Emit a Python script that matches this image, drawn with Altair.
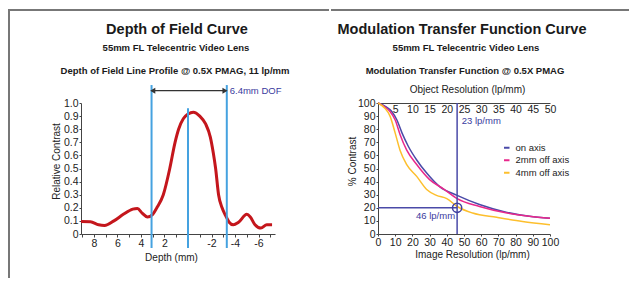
import altair as alt
import pandas as pd

# ---------------- data: depth of field line profile ----------------
dof_depth = [9.1, 8.3, 7.6, 7.1, 6.3, 5.5, 4.7, 4.3, 3.9, 3.45, 3.0, 2.65, 2.1, 1.55, 1.1,
             0.8, 0.4, 0.0, -0.45, -1.0, -1.5, -1.9, -2.15, -2.35, -2.6, -2.9, -3.2,
             -3.5, -3.85, -4.3, -5.0, -5.3, -5.7, -6.2, -6.7, -7.15]
dof_contrast = [0.095, 0.093, 0.07, 0.065, 0.1, 0.15, 0.19, 0.195, 0.16, 0.13, 0.15, 0.2, 0.3, 0.5, 0.7,
                0.8, 0.88, 0.915, 0.93, 0.9, 0.84, 0.74, 0.62, 0.5, 0.3, 0.2, 0.14,
                0.09, 0.07, 0.09, 0.15, 0.13, 0.07, 0.045, 0.07, 0.07]
dof_marker_x = [3.1, 0.0, -3.3]
dof_marker_top = [1.137, 0.96, 1.137]
dof_marker_bottom = [-0.107, -0.107, -0.107]
dof_arrow = [3.0, -3.15]
dof_arrow_y = 1.094
dof_label = "6.4mm DOF"

# ---------------- data: MTF curves ----------------
mtf_series = ["on axis", "2mm off axis", "4mm off axis"]
mtf_colors = ["#4a4aa8", "#e8288c", "#fdbf2d"]
on_axis_x = [0, 4, 8, 11, 14, 17.6, 22.5, 28.3, 36, 46, 59, 75, 88, 100]
on_axis_y = [100, 97.7, 93.5, 87, 77, 67, 56.5, 46.5, 36, 29.5, 22.5, 16.5, 13.5, 12]
off2_x = [0, 4, 7, 10, 12.8, 16.7, 22.5, 30, 38, 46, 59, 75, 88, 100]
off2_y = [100, 97, 93.5, 87, 76, 64, 53, 41.5, 34.5, 27, 21, 16, 13.5, 12]
off4_x = [0, 4, 7, 10, 12.8, 16.7, 22.5, 28.3, 34, 40, 46, 55, 69, 84, 100]
off4_y = [100, 96, 90, 77, 64, 53, 44, 34, 29.5, 27, 21, 16, 12.7, 9.5, 7]
mtf_cut_x = 46
mtf_cut_y = 20
mtf_labels = ["23 lp/mm", "46 lp/mm"]

FONT = "Liberation Sans"
AX = "#444444"
BLUE_TXT = "#3a3a9e"

# ================= left chart =================
dof_df = pd.DataFrame({"depth": dof_depth, "contrast": dof_contrast})
xs = alt.Scale(domain=[9.1, -7.4], nice=False, zero=False)
ys = alt.Scale(domain=[0, 1], nice=False, zero=False)

x_axis_l = alt.Axis(values=list(range(-7, 10)),
                    labelExpr="(datum.value % 2 == 0 && datum.value != 0) ? '' + datum.value : ''",
                    title="Depth (mm)", titleX=90, titleY=18, titleBaseline="top",
                    tickSize=3, labelPadding=1, labelFontSize=10.5,
                    grid=False, labelOverlap=False)
y_axis_l = alt.Axis(values=[i / 10 for i in range(11)],
                    labelExpr="datum.value == 0 ? '0' : format(datum.value, '.1f')",
                    title="Relative Contrast", titleX=-25, titleY=58, titleBaseline="middle",
                    tickSize=2, labelPadding=1, labelFontSize=10.5,
                    grid=False, labelOverlap=False)

XL = dict(scale=xs, axis=x_axis_l)
YL = dict(scale=ys, axis=y_axis_l)

curve = alt.Chart(dof_df).mark_line(color="#c4161c", strokeWidth=3, interpolate="monotone").encode(
    x=alt.X("depth:Q", **XL),
    y=alt.Y("contrast:Q", **YL),
)

mk_df = pd.DataFrame({"depth": dof_marker_x, "contrast": dof_marker_top, "bot": dof_marker_bottom})
markers = alt.Chart(mk_df).mark_rule(color="#45a2e0", strokeWidth=2).encode(
    x=alt.X("depth:Q", **XL),
    y=alt.Y("contrast:Q", **YL),
    y2="bot:Q",
)

arr_df = pd.DataFrame({"depth": [dof_arrow[0]], "x2": [dof_arrow[1]], "contrast": [dof_arrow_y]})
arrow_line = alt.Chart(arr_df).mark_rule(color="#333333", strokeWidth=1.3).encode(
    x=alt.X("depth:Q", **XL), x2="x2:Q", y=alt.Y("contrast:Q", **YL))
head_df = pd.DataFrame({"depth": dof_arrow, "contrast": [dof_arrow_y] * 2,
                        "shape": ["triangle-left", "triangle-right"]})
arrow_heads = alt.Chart(head_df).mark_point(filled=True, color="#333333", size=35, opacity=1).encode(
    x=alt.X("depth:Q", **XL), y=alt.Y("contrast:Q", **YL),
    shape=alt.Shape("shape:N", scale=None))
dof_txt = alt.Chart(pd.DataFrame({"depth": [-3.55], "contrast": [dof_arrow_y], "t": [dof_label]})).mark_text(
    align="left", baseline="middle", font=FONT, fontSize=9.5, color=BLUE_TXT).encode(
    x=alt.X("depth:Q", **XL), y=alt.Y("contrast:Q", **YL), text="t")

one = pd.DataFrame({"a": [0]})
frame_l = alt.Chart(one).mark_rule(color="#777777", strokeWidth=2).encode(
    x=alt.value(-72), y=alt.value(-94), y2=alt.value(175))
frame_t1 = alt.Chart(one).mark_rule(color="#777777", strokeWidth=2).encode(
    x=alt.value(-72), x2=alt.value(248), y=alt.value(-93))

def title_layer(text, x, y, size, bold):
    return alt.Chart(pd.DataFrame({"t": [text]})).mark_text(
        font=FONT, fontSize=size, fontWeight="bold" if bold else "normal",
        align="center", baseline="middle", color="#1a1a1a").encode(
        x=alt.value(x), y=alt.value(y), text="t")

left = alt.layer(
    curve, markers, arrow_line, arrow_heads, dof_txt,
    frame_l, frame_t1,
    title_layer("Depth of Field Curve", 96, -73, 14.5, True),
    title_layer("55mm FL Telecentric Video Lens", 95, -55, 9.5, True),
    title_layer("Depth of Field Line Profile @ 0.5X PMAG, 11 lp/mm", 94, -32, 9.5, True),
).properties(width=194, height=131)

# ================= right chart =================
rows = []
for name, xv, yv in [(mtf_series[0], on_axis_x, on_axis_y),
                     (mtf_series[1], off2_x, off2_y),
                     (mtf_series[2], off4_x, off4_y)]:
    for a, b in zip(xv, yv):
        rows.append({"res": a, "contrast": b, "series": name})
mtf_df = pd.DataFrame(rows)

rx = alt.Scale(domain=[0, 100], nice=False)
ry = alt.Scale(domain=[0, 100], nice=False)

x_axis_r = alt.Axis(values=list(range(0, 101, 10)), title="Image Resolution (lp/mm)",
                    titleX=94, titleY=15, titleBaseline="top",
                    tickSize=2, labelPadding=1, labelFontSize=10.5,
                    grid=False, labelOverlap=False, labelFlush=False)
x_axis_top = alt.Axis(orient="top", values=list(range(10, 101, 10)),
                      labelExpr="'' + (datum.value / 2)", ticks=False, labelPadding=-1,
                      labelBaseline="top", title="Object Resolution (lp/mm)",
                      titleX=89, titleY=-14, titleBaseline="middle",
                      labelFontSize=10.5, grid=False,
                      labelOverlap=False, labelFlush=False)
y_axis_r = alt.Axis(values=list(range(0, 101, 10)), title="% Contrast",
                    titleX=-26, titleY=58, titleBaseline="middle",
                    tickSize=2, labelPadding=1, labelFontSize=10.5,
                    grid=False, labelOverlap=False)
YR = dict(scale=ry, axis=y_axis_r)

lines = alt.Chart(mtf_df).mark_line(strokeWidth=1.5, interpolate="monotone").encode(
    x=alt.X("res:Q", scale=rx, axis=x_axis_r),
    y=alt.Y("contrast:Q", **YR),
    color=alt.Color("series:N", scale=alt.Scale(domain=mtf_series, range=mtf_colors),
                    sort=mtf_series,
                    legend=alt.Legend(orient="none", legendX=124, legendY=40, title=None,
                                      symbolType="stroke", symbolSize=30, symbolStrokeWidth=2,
                                      labelFont=FONT, labelFontSize=9.5, labelOffset=4,
                                      rowPadding=1.5, labelColor="#222222")),
)

vline = alt.Chart(pd.DataFrame({"res": [mtf_cut_x], "contrast": [0], "y2": [100]})).mark_rule(
    color="#4a4aa8", strokeWidth=1.5).encode(
    x=alt.X("res:Q", scale=rx, axis=x_axis_top), y=alt.Y("contrast:Q", **YR), y2="y2:Q")
hline = alt.Chart(pd.DataFrame({"res": [0], "x2": [mtf_cut_x], "contrast": [mtf_cut_y]})).mark_rule(
    color="#4a4aa8", strokeWidth=1.5).encode(
    x=alt.X("res:Q", scale=rx, axis=None), x2="x2:Q", y=alt.Y("contrast:Q", **YR))
circ = alt.Chart(pd.DataFrame({"res": [mtf_cut_x], "contrast": [mtf_cut_y]})).mark_point(
    shape="circle", filled=False, size=85, color="#4040a0", strokeWidth=1.5, opacity=1).encode(
    x=alt.X("res:Q", scale=rx, axis=None), y=alt.Y("contrast:Q", **YR))
lbl_df = pd.DataFrame({"res": [48.7, 44.8], "contrast": [86.3, 14], "t": mtf_labels})
lbl1 = alt.Chart(lbl_df.iloc[[0]]).mark_text(align="left", baseline="middle", font=FONT,
                                            fontSize=9.5, color=BLUE_TXT).encode(
    x=alt.X("res:Q", scale=rx, axis=None), y=alt.Y("contrast:Q", **YR), text="t")
lbl2 = alt.Chart(lbl_df.iloc[[1]]).mark_text(align="right", baseline="middle", font=FONT,
                                            fontSize=9.5, color=BLUE_TXT).encode(
    x=alt.X("res:Q", scale=rx, axis=None), y=alt.Y("contrast:Q", **YR), text="t")

frame_t2 = alt.Chart(one).mark_rule(color="#777777", strokeWidth=2).encode(
    x=alt.value(-47), x2=alt.value(251), y=alt.value(-93))

right = alt.layer(
    lines, hline, vline, circ, lbl1, lbl2,
    frame_t2,
    title_layer("Modulation Transfer Function Curve", 84, -73, 14.5, True),
    title_layer("55mm FL Telecentric Video Lens", 88, -55, 9.5, True),
    title_layer("Modulation Transfer Function @ 0.5X PMAG", 87, -32, 9.5, True),
).resolve_axis(x="independent").properties(width=172, height=131)

chart = alt.hconcat(left, right, spacing=0).resolve_scale(color="independent").properties(
    padding={"left": 0, "top": 0, "right": 0, "bottom": 0}
).configure(font=FONT).configure_view(stroke=None).configure_axis(
    domainColor=AX, tickColor=AX, labelColor="#222222", titleColor="#222222",
    titleFont=FONT, titleFontSize=10, titleFontWeight="normal", domainWidth=1, tickWidth=1,
    labelFont=FONT,
)

chart.save("out.html", embed_options={"renderer": "svg", "actions": False})
